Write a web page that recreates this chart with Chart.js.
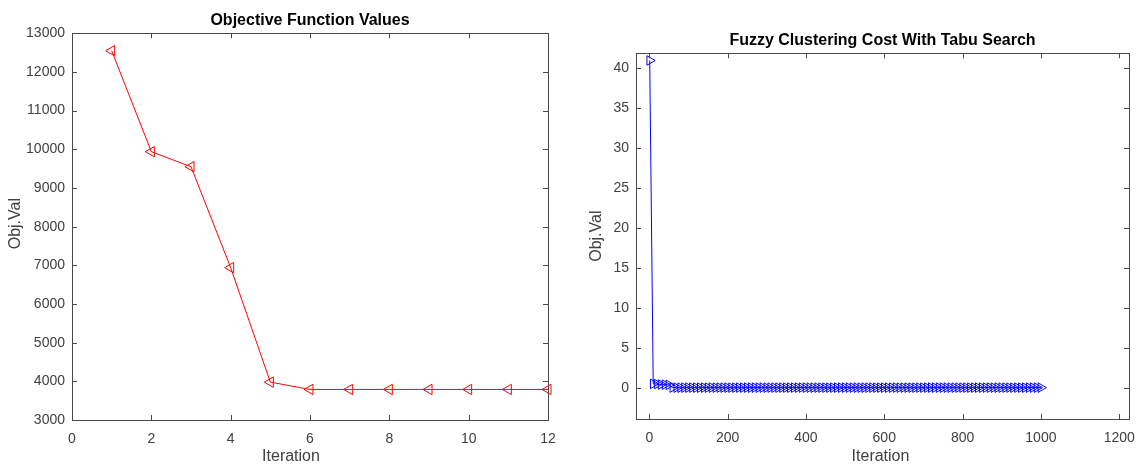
<!DOCTYPE html>
<html>
<head>
<meta charset="utf-8">
<script src="https://cdn.jsdelivr.net/npm/chart.js@4.4.1/dist/chart.umd.min.js"></script>
<style>
  html, body { margin: 0; padding: 0; background: #fff; }
  #wrap { position: relative; width: 1141px; height: 464px; overflow: hidden; }
  #leftChart { position: absolute; left: 0; top: 0; }
  #rightChart { position: absolute; left: 570px; top: 0; }
</style>
</head>
<body>
<div id="wrap">
  <canvas id="leftChart" width="570" height="464"></canvas>
  <canvas id="rightChart" width="571" height="464"></canvas>
</div>
<script>
// --------------------
// Data
// --------------------
const objIterations = [1, 2, 3, 4, 5, 6, 7, 8, 9, 10, 11, 12];
const objValues = [12550, 9940, 9550, 6940, 3980, 3790, 3790, 3790, 3790, 3790, 3790, 3790];
const objXTicks = [0, 2, 4, 6, 8, 10, 12];
const objYTicks = [3000, 4000, 5000, 6000, 7000, 8000, 9000, 10000, 11000, 12000, 13000];

const tabuIterations = [
  1, 10, 20, 30, 40, 50, 60, 70, 80, 90,
  100, 110, 120, 130, 140, 150, 160, 170, 180, 190,
  200, 210, 220, 230, 240, 250, 260, 270, 280, 290,
  300, 310, 320, 330, 340, 350, 360, 370, 380, 390,
  400, 410, 420, 430, 440, 450, 460, 470, 480, 490,
  500, 510, 520, 530, 540, 550, 560, 570, 580, 590,
  600, 610, 620, 630, 640, 650, 660, 670, 680, 690,
  700, 710, 720, 730, 740, 750, 760, 770, 780, 790,
  800, 810, 820, 830, 840, 850, 860, 870, 880, 890,
  900, 910, 920, 930, 940, 950, 960, 970, 980, 990,
  1000
];
const tabuCost = [
  41, 0.5, 0.48, 0.42, 0.4, 0.38, 0.03, 0.03, 0.03, 0.03,
  0.03, 0.03, 0.03, 0.03, 0.03, 0.03, 0.03, 0.03, 0.03, 0.03,
  0.03, 0.03, 0.03, 0.03, 0.03, 0.03, 0.03, 0.03, 0.03, 0.03,
  0.03, 0.03, 0.03, 0.03, 0.03, 0.03, 0.03, 0.03, 0.03, 0.03,
  0.03, 0.03, 0.03, 0.03, 0.03, 0.03, 0.03, 0.03, 0.03, 0.03,
  0.03, 0.03, 0.03, 0.03, 0.03, 0.03, 0.03, 0.03, 0.03, 0.03,
  0.03, 0.03, 0.03, 0.03, 0.03, 0.03, 0.03, 0.03, 0.03, 0.03,
  0.03, 0.03, 0.03, 0.03, 0.03, 0.03, 0.03, 0.03, 0.03, 0.03,
  0.03, 0.03, 0.03, 0.03, 0.03, 0.03, 0.03, 0.03, 0.03, 0.03,
  0.03, 0.03, 0.03, 0.03, 0.03, 0.03, 0.03, 0.03, 0.03, 0.03,
  0.03
];
const tabuXTicks = [0, 200, 400, 600, 800, 1000, 1200];
const tabuYTicks = [0, 5, 10, 15, 20, 25, 30, 35, 40];

const FONT = "'Liberation Sans', Arial, Helvetica, sans-serif";
const TEXT = '#404040';
const AXIS = '#4a4a4a';

// --------------------
// MATLAB-like box: frame, inward ticks on all sides, axis labels
// --------------------
const matlabBox = {
  id: 'matlabBox',
  afterDraw(chart, args, opts) {
    const { ctx, chartArea: a } = chart;
    const len = opts.tickLen || 5;
    ctx.save();
    ctx.strokeStyle = AXIS;
    ctx.lineWidth = 1;
    ctx.strokeRect(Math.round(a.left) + 0.5, Math.round(a.top) + 0.5,
                   Math.round(a.right - a.left), Math.round(a.bottom - a.top));

    ctx.beginPath();
    chart.scales.x.ticks.forEach(t => {
      const px = Math.round(chart.scales.x.getPixelForValue(t.value)) + 0.5;
      ctx.moveTo(px, a.bottom); ctx.lineTo(px, a.bottom - len);
      ctx.moveTo(px, a.top); ctx.lineTo(px, a.top + len);
    });
    chart.scales.y.ticks.forEach(t => {
      const py = Math.round(chart.scales.y.getPixelForValue(t.value)) + 0.5;
      ctx.moveTo(a.left, py); ctx.lineTo(a.left + len, py);
      ctx.moveTo(a.right, py); ctx.lineTo(a.right - len, py);
    });
    ctx.stroke();

    // axis labels
    ctx.fillStyle = TEXT;
    ctx.font = `16px ${FONT}`;
    ctx.textAlign = 'center';
    ctx.textBaseline = 'middle';
    const cx = (a.left + a.right) / 2 + (opts.xLabelDx || 0);
    ctx.fillText(opts.xLabel, cx, opts.xLabelY);

    ctx.translate(opts.yLabelX, (a.top + a.bottom) / 2 + (opts.yLabelDy || 0));
    ctx.rotate(-Math.PI / 2);
    ctx.fillText(opts.yLabel, 0, 0);
    ctx.restore();
  }
};

function tickOpts(pad) {
  return {
    color: TEXT,
    font: { family: FONT, size: 14 },
    padding: pad,
    includeBounds: false,
    autoSkip: false,
    maxRotation: 0,
    callback: v => String(v)
  };
}

function buildChart(canvasId, cfg) {
  const ctx = document.getElementById(canvasId).getContext('2d');
  return new Chart(ctx, {
    type: 'line',
    data: {
      datasets: [{
        data: cfg.xs.map((x, i) => ({ x, y: cfg.ys[i] })),
        borderColor: cfg.color,
        borderWidth: 1,
        pointStyle: 'triangle',
        rotation: cfg.rotation,
        pointRadius: cfg.pointRadius,
        pointHoverRadius: cfg.pointRadius,
        pointBorderColor: cfg.color,
        pointBackgroundColor: 'rgba(0,0,0,0)',
        pointBorderWidth: 1,
        tension: 0,
        fill: false,
        clip: false
      }]
    },
    options: {
      responsive: false,
      animation: false,
      events: [],
      layout: { padding: { left: 0, right: cfg.padRight, top: 0, bottom: 0 } },
      plugins: {
        legend: { display: false },
        tooltip: { enabled: false },
        title: {
          display: true,
          text: cfg.title,
          fullSize: false,
          color: '#000',
          font: { family: FONT, size: 16, weight: 'bold' },
          padding: { top: cfg.titleTop, bottom: cfg.titleBottom }
        },
        matlabBox: {
          tickLen: 5,
          xLabel: 'Iteration',
          xLabelY: 457,
          xLabelDx: cfg.xLabelDx,
          yLabel: 'Obj.Val',
          yLabelX: cfg.yLabelX,
          yLabelDy: cfg.yLabelDy
        }
      },
      scales: {
        x: {
          type: 'linear',
          min: cfg.xMin, max: cfg.xMax,
          afterBuildTicks: s => { s.ticks = cfg.xTicks.map(v => ({ value: v })); },
          afterFit: s => { s.height = cfg.xHeight; s.paddingLeft = 0; s.paddingRight = 0; },
          grid: { display: false, drawTicks: false },
          border: { display: false },
          ticks: tickOpts(11)
        },
        y: {
          type: 'linear',
          min: cfg.yMin, max: cfg.yMax,
          afterBuildTicks: s => { s.ticks = cfg.yTicks.map(v => ({ value: v })); },
          afterFit: s => { s.width = cfg.yWidth; },
          grid: { display: false, drawTicks: false },
          border: { display: false },
          ticks: tickOpts(7)
        }
      }
    },
    plugins: [matlabBox]
  });
}

buildChart('leftChart', {
  title: 'Objective Function Values',
  xs: objIterations, ys: objValues,
  xTicks: objXTicks, yTicks: objYTicks,
  xMin: 0, xMax: 12, yMin: 3000, yMax: 13000,
  color: '#ff0000', rotation: -90, pointRadius: 6,
  padRight: 22, yWidth: 72, xHeight: 44,
  titleTop: 11, titleBottom: 3.1,
  xLabelDx: -19, yLabelX: 16, yLabelDy: -3
});

buildChart('rightChart', {
  title: 'Fuzzy Clustering Cost With Tabu Search',
  xs: tabuIterations, ys: tabuCost,
  xTicks: tabuXTicks, yTicks: tabuYTicks,
  xMin: -34, xMax: 1225, yMin: -3.9, yMax: 41.9,
  color: '#0000ff', rotation: 90, pointRadius: 5.5,
  padRight: 12, yWidth: 66, xHeight: 45,
  titleTop: 31, titleBottom: 3.1,
  xLabelDx: -2, yLabelX: 27, yLabelDy: 0
});
</script>
</body>
</html>
